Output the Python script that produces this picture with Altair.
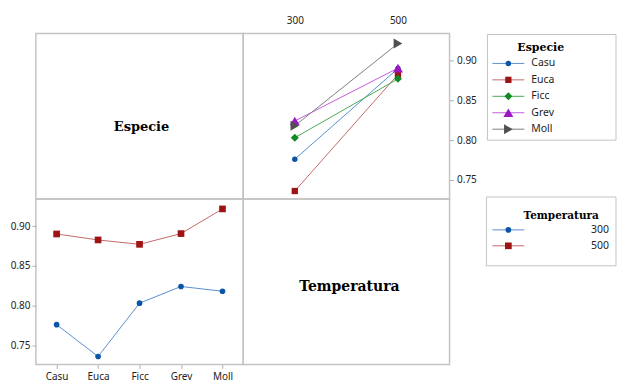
import altair as alt
import pandas as pd

# ---------------- data ----------------
especies = ["Casu", "Euca", "Ficc", "Grev", "Moll"]
temperaturas = ["300", "500"]
media_300 = [0.776, 0.736, 0.803, 0.824, 0.818]
media_500 = [0.890, 0.8825, 0.877, 0.8905, 0.9215]
y_ticks = [0.75, 0.80, 0.85, 0.90]

# ---------------- styles ----------------
esp_shapes = ["circle", "square", "diamond", "triangle-up", "triangle-right"]
esp_line_colors = ["#5b8fd0", "#c46a6a", "#4caa55", "#bf5fe0", "#808080"]
esp_mark_colors = ["#0b55a8", "#9e1414", "#0f8a25", "#9c16c4", "#505050"]
esp_sizes = [30, 40, 64, 100, 100]
temp_shapes = ["circle", "square"]
temp_line_colors = ["#5b8fd0", "#c46a6a"]
temp_mark_colors = ["#0b55a8", "#9e1414"]
temp_sizes = [32, 45]

rows = []
for i, e in enumerate(especies):
    rows.append({"Especie": e, "Temperatura": temperaturas[0], "Media": media_300[i]})
    rows.append({"Especie": e, "Temperatura": temperaturas[1], "Media": media_500[i]})
df = pd.DataFrame(rows)

Y_DOMAIN = [0.726, 0.934]
PW1, PW2, PH = 208, 207, 166
LW = 168
BORDER = "#c4c4c4"
LABEL_FONT = "Noto Sans"
TITLE_FONT = "DejaVu Serif"
LABEL_COLOR = "#1e1e1e"

# ---------------- top-left: label Especie ----------------
tl = alt.Chart(pd.DataFrame({"t": ["Especie"]})).mark_text(
    font=TITLE_FONT, fontWeight="bold", fontSize=13, align="center",
    baseline="alphabetic", color="black"
).encode(text="t:N", x=alt.value(PW1 / 2 + 2), y=alt.value(98)).properties(width=PW1, height=PH)

# ---------------- top-right: Temperatura on x, lines by Especie ----------------
x_temp = alt.X("Temperatura:N", sort=temperaturas,
               scale=alt.Scale(type="point", padding=0.5, domain=temperaturas),
               axis=alt.Axis(orient="top", title=None, ticks=False, labelPadding=8, labelAngle=0))
y_right = alt.Y("Media:Q", scale=alt.Scale(domain=Y_DOMAIN, nice=False, zero=False),
                axis=alt.Axis(orient="right", title=None, values=y_ticks, format=".2f",
                              tickSize=4, labelPadding=3))
tr_layers = []
for i, e in enumerate(especies):
    base = alt.Chart(df).transform_filter(alt.datum.Especie == e).encode(x=x_temp, y=y_right)
    tr_layers.append(base.mark_line(strokeWidth=1, color=esp_line_colors[i]))
for i, e in enumerate(especies):
    base = alt.Chart(df).transform_filter(alt.datum.Especie == e).encode(x=x_temp, y=y_right)
    tr_layers.append(base.mark_point(filled=True, opacity=1, shape=esp_shapes[i],
                                     size=esp_sizes[i], color=esp_mark_colors[i]))
tr = alt.layer(*tr_layers).properties(width=PW2, height=PH)

# ---------------- bottom-left: Especie on x, lines by Temperatura ----------------
x_esp = alt.X("Especie:N", sort=especies,
              scale=alt.Scale(type="point", padding=0.5, domain=especies),
              axis=alt.Axis(orient="bottom", title=None, tickSize=4, labelPadding=3, labelAngle=0))
y_left = alt.Y("Media:Q", scale=alt.Scale(domain=Y_DOMAIN, nice=False, zero=False),
               axis=alt.Axis(orient="left", title=None, values=y_ticks, format=".2f",
                             tickSize=4, labelPadding=2))
bl_layers = []
for i, t in enumerate(temperaturas):
    base = alt.Chart(df).transform_filter(alt.datum.Temperatura == t).encode(x=x_esp, y=y_left)
    bl_layers.append(base.mark_line(strokeWidth=1, color=temp_line_colors[i]))
for i, t in enumerate(temperaturas):
    base = alt.Chart(df).transform_filter(alt.datum.Temperatura == t).encode(x=x_esp, y=y_left)
    bl_layers.append(base.mark_point(filled=True, opacity=1, shape=temp_shapes[i],
                                     size=temp_sizes[i], color=temp_mark_colors[i]))
bl = alt.layer(*bl_layers).properties(width=PW1, height=PH)

# ---------------- bottom-right: label Temperatura ----------------
br = alt.Chart(pd.DataFrame({"t": ["Temperatura"]})).mark_text(
    font=TITLE_FONT, fontWeight="bold", fontSize=14, align="center",
    baseline="alphabetic", color="black"
).encode(text="t:N", x=alt.value(PW2 / 2 + 3), y=alt.value(92)).properties(width=PW2, height=PH)

# ---------------- legend panels ----------------
one = pd.DataFrame({"k": [0]})
no_view = alt.ViewBackground(stroke="transparent")

# Especie legend
esp_df = pd.DataFrame({"Especie": especies})
ly1 = alt.Y("Especie:N", sort=especies,
            scale=alt.Scale(type="point", domain=especies, range=[30, 96], padding=0), axis=None)
leg1_layers = [
    alt.Chart(one).mark_rect(fill="white", stroke=BORDER, strokeWidth=1).encode(
        x=alt.value(38), x2=alt.value(LW - 1), y=alt.value(1), y2=alt.value(107)),
    alt.Chart(pd.DataFrame({"t": ["Especie"]})).mark_text(
        font=TITLE_FONT, fontWeight="bold", fontSize=11, align="center",
        baseline="alphabetic", color="black").encode(
        text="t:N", x=alt.value(91.5), y=alt.value(17.7)),
]
for i, e in enumerate(especies):
    b = alt.Chart(esp_df).transform_filter(alt.datum.Especie == e)
    leg1_layers.append(b.mark_rule(strokeWidth=1, color=esp_line_colors[i]).encode(
        x=alt.value(43), x2=alt.value(75), y=ly1))
    leg1_layers.append(b.mark_point(filled=True, opacity=1, shape=esp_shapes[i],
                                    size=esp_sizes[i], color=esp_mark_colors[i]).encode(
        x=alt.value(59), y=ly1))
leg1_layers.append(alt.Chart(esp_df).mark_text(
    align="left", baseline="middle", font=LABEL_FONT, fontSize=10.5, color=LABEL_COLOR).encode(
    x=alt.value(82), y=ly1, text="Especie:N"))
leg1 = alt.layer(*leg1_layers).properties(width=LW, height=PH, view=no_view)

# Temperatura legend
tmp_df = pd.DataFrame({"Temperatura": temperaturas})
ly2 = alt.Y("Temperatura:N", sort=temperaturas,
            scale=alt.Scale(type="point", domain=temperaturas, range=[31, 47], padding=0), axis=None)
leg2_layers = [
    alt.Chart(one).mark_rect(fill="white", stroke=BORDER, strokeWidth=1).encode(
        x=alt.value(37), x2=alt.value(LW - 1), y=alt.value(-2), y2=alt.value(67)),
    alt.Chart(pd.DataFrame({"t": ["Temperatura"]})).mark_text(
        font=TITLE_FONT, fontWeight="bold", fontSize=10.5, align="center",
        baseline="alphabetic", color="black").encode(
        text="t:N", x=alt.value(112), y=alt.value(20)),
]
for i, t in enumerate(temperaturas):
    b = alt.Chart(tmp_df).transform_filter(alt.datum.Temperatura == t)
    leg2_layers.append(b.mark_rule(strokeWidth=1, color=temp_line_colors[i]).encode(
        x=alt.value(43), x2=alt.value(75), y=ly2))
    leg2_layers.append(b.mark_point(filled=True, opacity=1, shape=temp_shapes[i],
                                    size=temp_sizes[i], color=temp_mark_colors[i]).encode(
        x=alt.value(59), y=ly2))
leg2_layers.append(alt.Chart(tmp_df).mark_text(
    align="right", baseline="middle", font=LABEL_FONT, fontSize=10.5, color=LABEL_COLOR).encode(
    x=alt.value(160), y=ly2, text="Temperatura:N"))
leg2 = alt.layer(*leg2_layers).properties(width=LW, height=PH, view=no_view)

chart = alt.concat(tl, tr, leg1, bl, br, leg2, columns=3, spacing=0, bounds="flush").properties(
    padding={"left": 9, "top": 14, "right": 0, "bottom": 0}
).configure_view(
    stroke=BORDER, strokeWidth=1.5
).configure_axis(
    domain=False, grid=False, tickColor="#b0b0b0", labelColor=LABEL_COLOR,
    labelFont=LABEL_FONT, labelFontSize=10
)

chart.save("out.html", embed_options={"renderer": "svg", "actions": False})
